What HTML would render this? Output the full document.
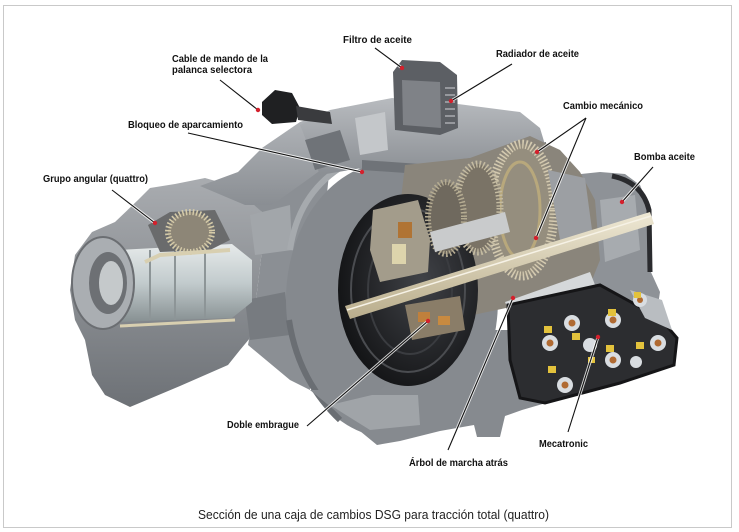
<!DOCTYPE html>
<html><head><meta charset="utf-8"><style>
html,body{margin:0;padding:0;background:#fff;}
svg{display:block}
.l{font-family:"Liberation Sans",sans-serif;font-weight:bold;font-size:10px;fill:#111}
.c{font-family:"Liberation Sans",sans-serif;font-size:12.5px;fill:#222}
</style></head><body>
<svg width="739" height="532" viewBox="0 0 739 532" xmlns="http://www.w3.org/2000/svg">
<defs>
 <linearGradient id="gBody" x1="0" y1="0" x2="0" y2="1">
  <stop offset="0" stop-color="#a9acb0"/><stop offset="1" stop-color="#6d7176"/>
 </linearGradient>
 <linearGradient id="gTop" x1="0" y1="0" x2="0" y2="1">
  <stop offset="0" stop-color="#b8bbbf"/><stop offset="1" stop-color="#8a8e93"/>
 </linearGradient>
 <linearGradient id="gCyl" x1="0" y1="0" x2="0" y2="1">
  <stop offset="0" stop-color="#e6eaea"/><stop offset="0.5" stop-color="#c2cbcd"/><stop offset="1" stop-color="#879092"/>
 </linearGradient>
 <linearGradient id="gShaft" x1="0" y1="0" x2="0" y2="1">
  <stop offset="0" stop-color="#eee8d4"/><stop offset="1" stop-color="#b9ad8c"/>
 </linearGradient>
 <radialGradient id="gBell" cx="0.6" cy="0.45" r="0.6">
  <stop offset="0" stop-color="#404247"/><stop offset="1" stop-color="#141517"/>
 </radialGradient>
</defs>
<rect x="0" y="0" width="739" height="532" fill="#fff"/>
<rect x="3.5" y="5.5" width="728" height="522" fill="#fff" stroke="#c9c9c9" stroke-width="1"/>

<!-- Left group body -->
<polygon points="70,290 75,255 92,232 115,222 138,200 150,188 175,184 205,178 240,188 262,212 262,250 256,300 250,338 240,350 228,365 180,386 130,407 105,395 92,375 85,340 75,320" fill="url(#gBody)"/>
<!-- Middle connecting body (fills gap to bell) -->
<polygon points="235,188 300,160 330,165 320,260 310,390 290,380 248,345 256,300 262,250 262,212" fill="#8b8f94"/>
<polygon points="250,215 290,205 292,250 255,255" fill="#a2a6aa"/>
<polygon points="245,300 285,292 290,335 250,340" fill="#777b80"/>
<!-- Top connecting body -->
<polygon points="200,186 238,172 262,148 300,122 340,108 392,100 392,118 362,135 332,162 300,185 272,205 245,205" fill="url(#gTop)"/>
<!-- Bell housing outer -->
<ellipse cx="392" cy="300" rx="106" ry="138" fill="#85898e"/>
<path d="M290,250 Q298,195 340,168" stroke="#a6aaae" stroke-width="6" fill="none"/>
<path d="M289,320 Q298,380 340,420" stroke="#6a6e73" stroke-width="6" fill="none"/>
<!-- Lower central housing -->
<polygon points="310,390 377,445 400,441 440,431 474,425 477,437 500,437 505,416 522,410 546,403 520,330 470,330 430,345 380,390" fill="#868a8f"/>
<polygon points="330,405 370,430 420,425 418,395 372,395" fill="#a0a4a8"/>
<!-- Platform under filter -->
<polygon points="300,125 330,110 392,98 458,104 520,112 540,128 546,148 480,165 420,172 362,168 320,175" fill="url(#gTop)"/>
<polygon points="305,140 340,130 350,160 315,170" fill="#6f7378"/>
<polygon points="355,118 385,112 388,150 360,155" fill="#c4c7ca"/>
<polygon points="362,160 420,164 480,157 546,142 546,150 480,167 420,174 362,170" fill="#6f7378"/>
<!-- Right pump housing -->
<polygon points="562,176 600,172 625,174 640,185 650,210 650,270 660,292 656,318 600,292 568,282" fill="#8e9297"/>
<path d="M612,176 Q642,182 649,210 L650,272" stroke="#2a2b2e" stroke-width="5" fill="none"/>
<polygon points="600,200 635,195 640,250 605,262" fill="#a7abaf"/>
<!-- Gear section -->
<polygon points="405,165 470,158 530,136 560,150 580,172 595,200 600,260 590,285 520,305 440,322 400,322 395,250" fill="#8a857b"/>
<!-- Bell dark interior -->
<ellipse cx="408" cy="290" rx="70" ry="96" fill="url(#gBell)"/>
<ellipse cx="408" cy="290" rx="57" ry="82" fill="none" stroke="#4a4c50" stroke-width="2"/>
<ellipse cx="410" cy="290" rx="42" ry="64" fill="none" stroke="#3a3c40" stroke-width="2"/>
<!-- Gears -->
<ellipse cx="522" cy="210" rx="32" ry="66" fill="#958e7e" stroke="#d4cab0" stroke-width="9" stroke-dasharray="1.5 2"/>
<ellipse cx="520" cy="210" rx="20" ry="48" fill="none" stroke="#b8a87c" stroke-width="3"/>
<ellipse cx="478" cy="208" rx="22" ry="44" fill="#7a7366" stroke="#c4bba1" stroke-width="7" stroke-dasharray="1.5 2"/>
<ellipse cx="446" cy="218" rx="18" ry="36" fill="#6f695e" stroke="#b5ac92" stroke-width="6" stroke-dasharray="1.5 2"/>
<polygon points="430,232 505,212 510,232 435,252" fill="#c9cbcc"/>
<polygon points="548,170 585,178 592,230 560,240" fill="#9c9fa3"/>
<!-- Clutch packs -->
<polygon points="373,210 418,200 430,240 428,272 380,282 370,250" fill="#a39c8b"/>
<rect x="398" y="222" width="14" height="16" fill="#b07434"/>
<rect x="392" y="244" width="14" height="20" fill="#ddd4ac"/>
<polygon points="405,305 460,296 465,330 412,340" fill="#8a7d68"/>
<rect x="418" y="312" width="12" height="10" fill="#c0803c"/>
<rect x="438" y="316" width="12" height="9" fill="#c88a40"/>
<!-- Main shaft -->
<polygon points="345,306 650,212 654,224 350,319" fill="url(#gShaft)"/>
<line x1="347" y1="310" x2="651" y2="216" stroke="#f6f2e6" stroke-width="1.5"/>
<!-- Reverse shaft -->
<polygon points="505,302 590,272 597,290 512,318" fill="#d5d8da"/>
<!-- Mecatronic -->
<polygon points="508,305 600,285 660,318 677,338 674,365 620,383 545,403 520,398 510,360" fill="#2c2d30"/>
<polygon points="508,305 600,285 660,318 677,338 674,365 620,383 545,403 520,398 510,360" fill="none" stroke="#151517" stroke-width="3"/>
<polygon points="630,290 662,300 672,330 645,318" fill="#b9bdc1"/>
<g fill="#d9dde1">
<circle cx="572" cy="323" r="8"/><circle cx="550" cy="343" r="8"/><circle cx="613" cy="320" r="8"/>
<circle cx="613" cy="360" r="8"/><circle cx="565" cy="385" r="8"/><circle cx="658" cy="343" r="8"/>
<circle cx="640" cy="300" r="7"/><circle cx="590" cy="345" r="7"/><circle cx="636" cy="362" r="6"/>
</g>
<g fill="#b06a32">
<circle cx="572" cy="323" r="3.5"/><circle cx="550" cy="343" r="3.5"/><circle cx="613" cy="320" r="3.5"/>
<circle cx="613" cy="360" r="3.5"/><circle cx="565" cy="385" r="3.5"/><circle cx="658" cy="343" r="3.5"/>
<circle cx="640" cy="300" r="3"/>
</g>
<g fill="#e3c23c">
<rect x="544" y="326" width="8" height="7"/><rect x="572" y="333" width="8" height="7"/><rect x="608" y="309" width="8" height="7"/>
<rect x="606" y="345" width="8" height="7"/><rect x="548" y="366" width="8" height="7"/><rect x="636" y="342" width="8" height="7"/>
<rect x="634" y="292" width="7" height="6"/><rect x="588" y="357" width="7" height="6"/>
</g>
<!-- Filter / radiator block -->
<polygon points="393,72 402,60 440,62 457,75 458,128 440,135 395,130" fill="#5c5f64"/>
<polygon points="402,80 440,82 441,128 403,125" fill="#7f8287"/>
<g stroke="#a9acb0" stroke-width="1.5">
<line x1="445" y1="88" x2="455" y2="88"/><line x1="445" y1="95" x2="455" y2="95"/><line x1="445" y1="102" x2="455" y2="102"/>
<line x1="445" y1="109" x2="455" y2="109"/><line x1="445" y1="116" x2="455" y2="116"/><line x1="445" y1="123" x2="455" y2="123"/>
</g>
<!-- Cable connector -->
<polygon points="262,102 275,90 292,93 300,108 296,122 272,124 262,115" fill="#1f2022"/>
<polygon points="296,106 330,112 332,124 298,120" fill="#3a3b3e"/>
<!-- Left cylinder section -->
<polygon points="118,250 232,244 252,260 252,302 232,318 118,322" fill="url(#gCyl)"/>
<g stroke="#8d9597" stroke-width="2"><line x1="150" y1="250" x2="150" y2="320"/><line x1="175" y1="248" x2="175" y2="320"/><line x1="205" y1="246" x2="205" y2="318"/></g>
<polygon points="148,225 170,212 215,210 230,240 210,250 160,252" fill="#6a6b6c"/>
<ellipse cx="190" cy="232" rx="22" ry="20" fill="#8d8677" stroke="#d5cba9" stroke-width="6" stroke-dasharray="1.5 2"/>
<path d="M145,262 L160,255 L230,250" stroke="#d8cfb0" stroke-width="4" fill="none"/>
<path d="M120,326 L235,320" stroke="#d8cfb0" stroke-width="3" fill="none"/>
<!-- Left flange -->
<ellipse cx="103" cy="283" rx="31" ry="46" fill="#aaaeb2" stroke="#6b6e72" stroke-width="2"/>
<ellipse cx="108" cy="283" rx="19" ry="31" fill="#6d7074"/>
<ellipse cx="111" cy="283" rx="12" ry="22" fill="#c5c9cb"/>
<!-- Leader lines -->
<g stroke="#fff" stroke-width="3" opacity="0.8">
<line x1="220" y1="80" x2="258" y2="110"/><line x1="188" y1="133" x2="362" y2="172"/><line x1="112" y1="190" x2="155" y2="223"/>
<line x1="375" y1="48" x2="402" y2="68"/><line x1="512" y1="64" x2="451" y2="101"/><line x1="586" y1="118" x2="537" y2="152"/>
<line x1="586" y1="118" x2="536" y2="238"/><line x1="653" y1="167" x2="622" y2="202"/><line x1="307" y1="426" x2="428" y2="321"/>
<line x1="448" y1="450" x2="513" y2="298"/><line x1="568" y1="432" x2="598" y2="337"/>
</g>
<g stroke="#111" stroke-width="1.1">
<line x1="220" y1="80" x2="258" y2="110"/><line x1="188" y1="133" x2="362" y2="172"/><line x1="112" y1="190" x2="155" y2="223"/>
<line x1="375" y1="48" x2="402" y2="68"/><line x1="512" y1="64" x2="451" y2="101"/><line x1="586" y1="118" x2="537" y2="152"/>
<line x1="586" y1="118" x2="536" y2="238"/><line x1="653" y1="167" x2="622" y2="202"/><line x1="307" y1="426" x2="428" y2="321"/>
<line x1="448" y1="450" x2="513" y2="298"/><line x1="568" y1="432" x2="598" y2="337"/>
</g>
<g fill="#d4202c">
<circle cx="258" cy="110" r="2.2"/><circle cx="362" cy="172" r="2.2"/><circle cx="155" cy="223" r="2.2"/>
<circle cx="402" cy="68" r="2.2"/><circle cx="451" cy="101" r="2.2"/><circle cx="537" cy="152" r="2.2"/>
<circle cx="536" cy="238" r="2.2"/><circle cx="622" cy="202" r="2.2"/><circle cx="428" cy="321" r="2.2"/>
<circle cx="513" cy="298" r="2.2"/><circle cx="598" cy="337" r="2.2"/>
</g>
<!-- Labels -->
<text class="l" x="172" y="62" textLength="96" lengthAdjust="spacingAndGlyphs">Cable de mando de la</text>
<text class="l" x="172" y="73" textLength="80" lengthAdjust="spacingAndGlyphs">palanca selectora</text>
<text class="l" x="128" y="128" textLength="115" lengthAdjust="spacingAndGlyphs">Bloqueo de aparcamiento</text>
<text class="l" x="43" y="182" textLength="105" lengthAdjust="spacingAndGlyphs">Grupo angular (quattro)</text>
<text class="l" x="343" y="43" textLength="69" lengthAdjust="spacingAndGlyphs">Filtro de aceite</text>
<text class="l" x="496" y="57" textLength="83" lengthAdjust="spacingAndGlyphs">Radiador de aceite</text>
<text class="l" x="563" y="109" textLength="80" lengthAdjust="spacingAndGlyphs">Cambio mecánico</text>
<text class="l" x="634" y="160" textLength="61" lengthAdjust="spacingAndGlyphs">Bomba aceite</text>
<text class="l" x="227" y="428" textLength="72" lengthAdjust="spacingAndGlyphs">Doble embrague</text>
<text class="l" x="409" y="466" textLength="99" lengthAdjust="spacingAndGlyphs">Árbol de marcha atrás</text>
<text class="l" x="539" y="447" textLength="49" lengthAdjust="spacingAndGlyphs">Mecatronic</text>
<text class="c" x="198" y="519" textLength="351" lengthAdjust="spacingAndGlyphs">Sección de una caja de cambios DSG para tracción total (quattro)</text>
</svg>
</body></html>
